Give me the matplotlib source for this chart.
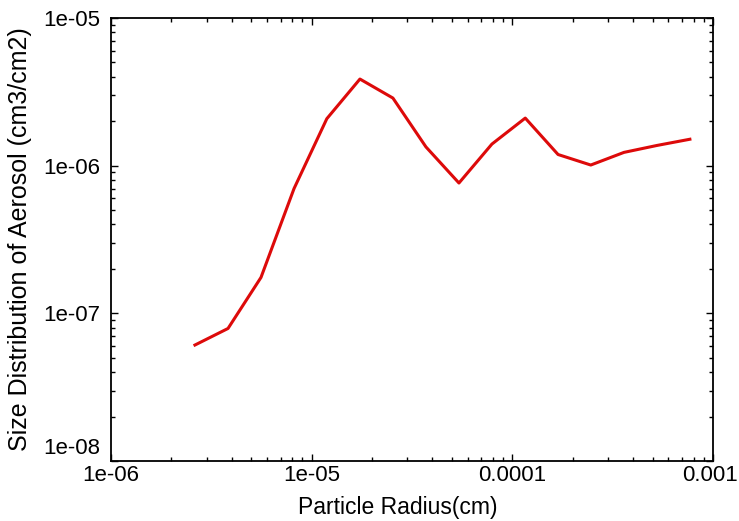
import matplotlib
matplotlib.use("Agg")
import matplotlib.pyplot as plt
import matplotlib.transforms as mtransforms
from matplotlib.ticker import LogLocator, FixedLocator, FixedFormatter

# Particle radius (cm) and size distribution (cm3/cm2)
radius = [2.62e-6, 3.83e-6, 5.59e-6, 8.17e-6, 1.19e-5, 1.74e-5, 2.54e-5, 3.71e-5,
          5.42e-5, 7.91e-5, 1.16e-4, 1.69e-4, 2.46e-4, 3.60e-4, 5.25e-4, 7.67e-4]
size_dist = [6.1e-8, 7.9e-8, 1.75e-7, 7.0e-7, 2.08e-6, 3.86e-6, 2.87e-6, 1.34e-6,
             7.63e-7, 1.40e-6, 2.10e-6, 1.19e-6, 1.01e-6, 1.23e-6, 1.37e-6, 1.51e-6]

x_ticks = [1e-6, 1e-5, 1e-4, 1e-3]
x_labels = ["1e-06", "1e-05", "0.0001", "0.001"]
y_ticks = [1e-8, 1e-7, 1e-6, 1e-5]
y_labels = ["1e-08", "1e-07", "1e-06", "1e-05"]

plt.rcParams['font.family'] = ['Liberation Sans', 'DejaVu Sans']


def shift_label(fig, tick, dx_px, dy_px):
    """Move one tick label by a few pixels."""
    lbl = tick.label1
    lbl.set_transform(lbl.get_transform() +
                      mtransforms.ScaledTranslation(dx_px / 100, dy_px / 100,
                                                    fig.dpi_scale_trans))


def main():
    fig = plt.figure(figsize=(7.39, 5.21), dpi=100)
    ax = fig.add_axes([111 / 739, 1 - 461 / 521, 602 / 739, 443 / 521])

    ax.plot(radius, size_dist, color='#dd0a0a', linewidth=2.2)

    ax.set_xscale('log')
    ax.set_yscale('log')
    ax.set_xlim(1e-6, 1e-3)
    ax.set_ylim(1e-8, 1e-5)

    ax.xaxis.set_major_locator(FixedLocator(x_ticks))
    ax.xaxis.set_major_formatter(FixedFormatter(x_labels))
    ax.yaxis.set_major_locator(FixedLocator(y_ticks))
    ax.yaxis.set_major_formatter(FixedFormatter(y_labels))
    ax.xaxis.set_minor_locator(LogLocator(base=10, subs=range(2, 10)))
    ax.yaxis.set_minor_locator(LogLocator(base=10, subs=range(2, 10)))

    ax.tick_params(which='both', direction='in', top=True, right=True,
                   labelsize=16, width=1.0)
    ax.tick_params(axis='x', which='both', pad=3)
    ax.tick_params(axis='y', which='both', pad=8)
    ax.tick_params(which='major', length=5)
    ax.tick_params(which='minor', length=3)
    for s in ax.spines.values():
        s.set_linewidth(1.3)

    ax.set_xlabel('Particle Radius(cm)', fontsize=16.5)
    ax.xaxis.set_label_coords((398 - 111) / 602, (461 - 496) / 443)
    ax.set_ylabel('Size Distribution of Aerosol (cm3/cm2)', fontsize=18, labelpad=8)

    # lift the bottom y label so it clears the x labels, keep 0.001 inside
    fig.canvas.draw()
    shift_label(fig, ax.yaxis.get_major_ticks()[0], 0, 15)
    shift_label(fig, ax.xaxis.get_major_ticks()[-1], -3, 0)

    fig.savefig('out.png', dpi=100)


if __name__ == "__main__":
    main()
